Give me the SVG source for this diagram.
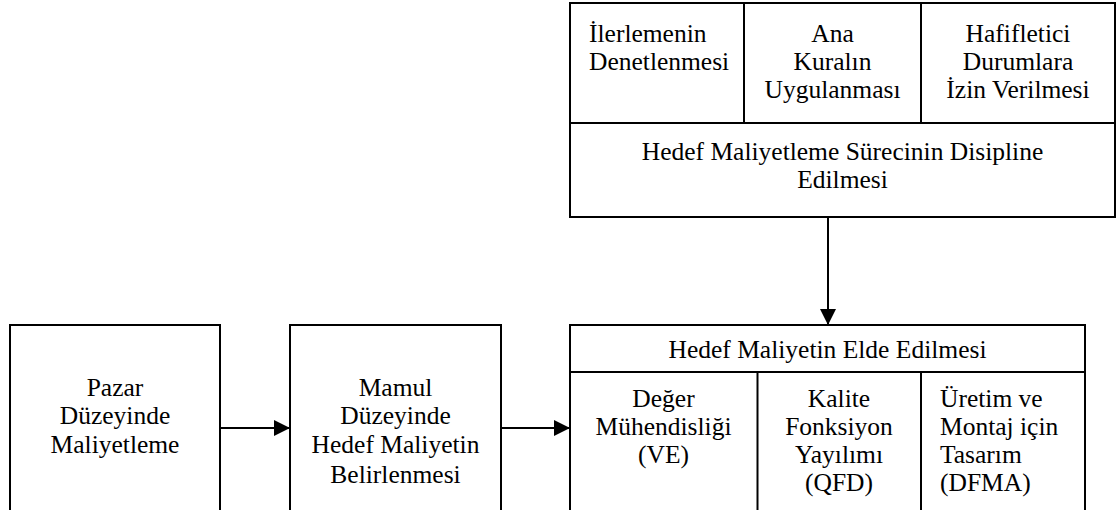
<svg xmlns="http://www.w3.org/2000/svg" width="1120" height="510" viewBox="0 0 1120 510">
  <defs>
    <style>
      .box { fill: #ffffff; stroke: #000000; stroke-width: 2; }
      .div { fill: none; stroke: #000000; stroke-width: 2; }
      .edge { fill: none; stroke: #000000; stroke-width: 2; }
      .t { font-family: 'Liberation Serif', 'Times New Roman', serif; font-size: 25.5px; fill: #000000; }
      .c { text-anchor: middle; }
      .l { text-anchor: start; }
    </style>
    <marker id="arrow" viewBox="0 0 16 16" refX="16" refY="8" markerWidth="16" markerHeight="16" markerUnits="userSpaceOnUse" orient="auto">
      <path d="M0,0 L16,8 L0,16 Z" fill="#000000"/>
    </marker>
  </defs>

  <rect width="1120" height="510" fill="#ffffff"/>

  <!-- Discipline of the target costing process -->
  <g id="discipline">
    <rect class="box" x="570" y="3" width="545" height="214"/>
    <line class="div" x1="570" y1="123" x2="1115" y2="123"/>
    <line class="div" x1="744" y1="3" x2="744" y2="123"/>
    <line class="div" x1="921" y1="3" x2="921" y2="123"/>
    <g class="t">
      <text class="l" x="589" y="42">İlerlemenin</text>
      <text class="l" x="589" y="70">Denetlenmesi</text>
      <text class="c" x="832.5" y="42">Ana</text>
      <text class="c" x="832.5" y="70">Kuralın</text>
      <text class="c" x="832.5" y="98">Uygulanması</text>
      <text class="c" x="1018" y="42">Hafifletici</text>
      <text class="c" x="1018" y="70">Durumlara</text>
      <text class="c" x="1018" y="98">İzin Verilmesi</text>
      <text class="c" x="842.5" y="160">Hedef Maliyetleme Sürecinin Disipline</text>
      <text class="c" x="842.5" y="188">Edilmesi</text>
    </g>
  </g>

  <!-- Market level costing -->
  <g id="market">
    <rect class="box" x="10" y="325" width="210" height="200"/>
    <g class="t">
      <text class="c" x="115" y="396">Pazar</text>
      <text class="c" x="115" y="424">Düzeyinde</text>
      <text class="c" x="115" y="453">Maliyetleme</text>
    </g>
  </g>

  <!-- Product level target cost -->
  <g id="product">
    <rect class="box" x="290" y="325" width="211" height="200"/>
    <g class="t">
      <text class="c" x="395.5" y="396">Mamul</text>
      <text class="c" x="395.5" y="424">Düzeyinde</text>
      <text class="c" x="395.5" y="453">Hedef Maliyetin</text>
      <text class="c" x="395.5" y="483">Belirlenmesi</text>
    </g>
  </g>

  <!-- Achieving the target cost -->
  <g id="achieve">
    <rect class="box" x="570" y="325" width="515" height="200"/>
    <line class="div" x1="570" y1="372" x2="1085" y2="372"/>
    <line class="div" x1="757.5" y1="372" x2="757.5" y2="525"/>
    <line class="div" x1="921" y1="372" x2="921" y2="525"/>
    <g class="t">
      <text class="c" x="827.5" y="358">Hedef Maliyetin Elde Edilmesi</text>
      <text class="c" x="663.5" y="407">Değer</text>
      <text class="c" x="663.5" y="435">Mühendisliği</text>
      <text class="c" x="663.5" y="463">(VE)</text>
      <text class="c" x="839" y="407">Kalite</text>
      <text class="c" x="839" y="435">Fonksiyon</text>
      <text class="c" x="839" y="463">Yayılımı</text>
      <text class="c" x="839" y="491">(QFD)</text>
      <text class="l" x="940" y="407">Üretim ve</text>
      <text class="l" x="940" y="435">Montaj için</text>
      <text class="l" x="940" y="463">Tasarım</text>
      <text class="l" x="940" y="491">(DFMA)</text>
    </g>
  </g>

  <!-- Connectors -->
  <g id="connectors">
    <line class="edge" x1="220" y1="428" x2="290" y2="428" marker-end="url(#arrow)"/>
    <line class="edge" x1="501" y1="428" x2="570" y2="428" marker-end="url(#arrow)"/>
    <line class="edge" x1="828" y1="217" x2="828" y2="325" marker-end="url(#arrow)"/>
  </g>
</svg>
